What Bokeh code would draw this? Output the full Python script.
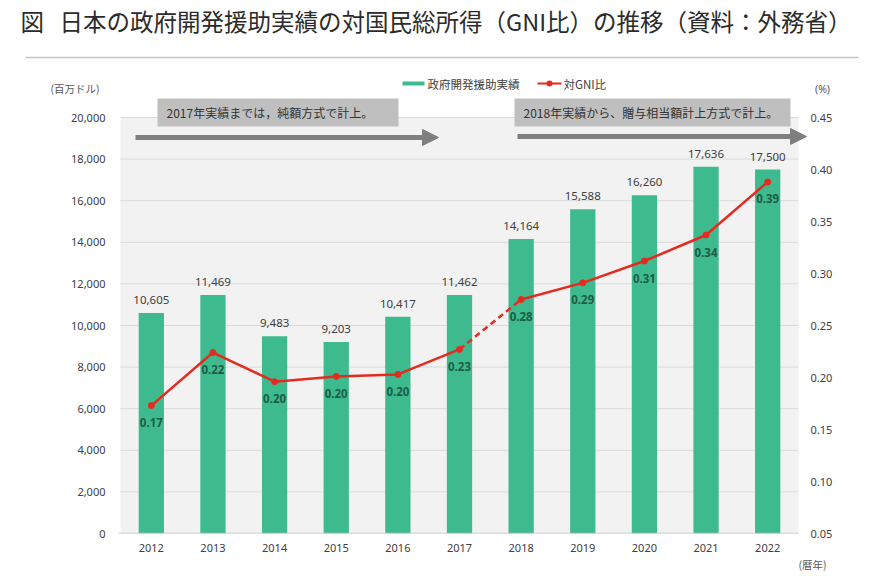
from bokeh.plotting import figure
from bokeh.layouts import column
from bokeh.models import (Range1d, LinearAxis, NumeralTickFormatter, FixedTicker,
                          ColumnDataSource, LabelSet, Label, BoxAnnotation, Arrow, NormalHead)
from bokeh.core.properties import value
from bokeh.embed import file_html
from bokeh.resources import INLINE

# ---------------- data ----------------
years = ["2012", "2013", "2014", "2015", "2016", "2017", "2018", "2019", "2020", "2021", "2022"]
oda = [10605, 11469, 9483, 9203, 10417, 11462, 14164, 15588, 16260, 17636, 17500]
gni_ratio = [0.173, 0.224, 0.196, 0.201, 0.203, 0.227, 0.275, 0.291, 0.312, 0.337, 0.388]
gni_labels = ["0.17", "0.22", "0.20", "0.20", "0.20", "0.23", "0.28", "0.29", "0.31", "0.34", "0.39"]
left_ticks = [0, 2000, 4000, 6000, 8000, 10000, 12000, 14000, 16000, 18000, 20000]
right_ticks = [0.05, 0.10, 0.15, 0.20, 0.25, 0.30, 0.35, 0.40, 0.45]

title_mark = "図"
title_text = "日本の政府開発援助実績の対国民総所得（GNI比）の推移（資料：外務省）"
series_bar = "政府開発援助実績"
series_line = "対GNI比"
note_before = "2017年実績までは，純額方式で計上。"
note_after = "2018年実績から、贈与相当額計上方式で計上。"
unit_left = "(百万ドル)"
unit_right = "(%)"
unit_x = "(暦年)"

# ---------------- layout constants (page px) ----------------
W = 866
TOP_H = 96          # header strip: y 0..96
MAIN_END = 558      # main figure: y 96..558
TOTAL_H = 571       # footer strip: y 558..571
PL, PR, PT, PB = 120, 798, 117, 533   # grey plot area (category span, 0..20000)
FRAME_L, FRAME_R = 109, 809           # main frame (a bit wider than grey area)
YMAX = left_ticks[-1]
N = len(years)
PX = (PR - PL) / N
YPX = YMAX / (PB - PT)
RPX = (right_ticks[-1] - right_ticks[0]) / (PB - PT)

BAR = "#3dbb8e"
RED = "#e52a1f"
GRAY_ARROW = "#7f7f7f"
JP = "Noto Sans CJK JP"
NUM = "Noto Sans"
TXT = "#404040"


def dx(page_x):
    return (page_x - PL) / PX - 0.5


def dy(page_y):
    return (PB - page_y) * YPX


def strip(height, y0):
    f = figure(width=W, height=height, x_range=Range1d(0, W), y_range=Range1d(y0 + height, y0),
               output_backend="svg", toolbar_location=None, x_axis_location=None,
               y_axis_location=None, min_border=0, title=None, frame_align=False)
    f.outline_line_color = None
    f.grid.visible = False
    f.background_fill_color = "white"
    f.border_fill_color = "white"
    return f


# ---------------- header strip ----------------
top = strip(TOP_H, 0)
top.add_layout(Label(x=20, y=20, text=title_mark, text_font=JP, text_font_size="23.5px",
                     text_baseline="middle", text_color="#2b2b2b"))
top.add_layout(Label(x=59, y=20, text=title_text, text_font=JP, text_font_size="23.5px",
                     text_baseline="middle", text_color="#2b2b2b"))
top.add_layout(Arrow(start=None, end=None, x_start=25, y_start=57, x_end=858, y_end=57,
                     line_color="#c4c4c4", line_width=1.5))
top.add_layout(Label(x=50, y=88, text=unit_left, text_font=JP, text_font_size="10.5px",
                     text_baseline="middle", text_color="#595959"))
top.add_layout(Label(x=822, y=88, text=unit_right, text_font=NUM, text_font_size="10.5px",
                     text_baseline="middle", text_align="center", text_color="#595959"))
# legend
top.add_layout(BoxAnnotation(left=402, right=424, top=81, bottom=85,
                             fill_color=BAR, fill_alpha=1, line_color=None))
top.add_layout(Label(x=427, y=83, text=series_bar, text_font=JP, text_font_size="11.5px",
                     text_baseline="middle", text_color=TXT))
top.add_layout(Arrow(start=None, end=None, x_start=537, y_start=83, x_end=561, y_end=83,
                     line_color=RED, line_width=2))
top.add_layout(BoxAnnotation(left=546, right=552, top=80, bottom=86, border_radius=3,
                             fill_color=RED, fill_alpha=1, line_color=None))
top.add_layout(Label(x=563, y=83, text=series_line, text_font=JP, text_font_size="11.5px",
                     text_baseline="middle", text_color=TXT))

# ---------------- main figure ----------------
main_h = MAIN_END - TOP_H
xpos = list(range(N))
p = figure(width=W, height=main_h,
           x_range=Range1d(dx(FRAME_L), dx(FRAME_R)), y_range=Range1d(0, dy(TOP_H)),
           output_backend="svg", toolbar_location=None, title=None, frame_align=False,
           min_border_left=FRAME_L, min_border_right=W - FRAME_R,
           min_border_top=0, min_border_bottom=MAIN_END - PB)
p.extra_y_ranges = {"pct": Range1d(right_ticks[0], right_ticks[0] + (PB - TOP_H) * RPX)}
p.background_fill_color = "white"
p.border_fill_color = "white"
p.outline_line_color = None
p.xgrid.visible = False
p.ygrid.visible = False

# left axis
ya = p.yaxis[0]
ya.ticker = FixedTicker(ticks=left_ticks)
ya.formatter = NumeralTickFormatter(format="0,0")
ya.axis_line_color = None
ya.major_tick_line_color = None
ya.minor_tick_line_color = None
ya.major_tick_out = 0
ya.major_tick_in = 0
ya.major_label_standoff = 4
ya.major_label_text_font = NUM
ya.major_label_text_font_size = "11px"
ya.major_label_text_color = TXT

# right axis
ra = LinearAxis(y_range_name="pct", ticker=FixedTicker(ticks=right_ticks),
                formatter=NumeralTickFormatter(format="0.00"))
ra.axis_line_color = None
ra.major_tick_line_color = None
ra.minor_tick_line_color = None
ra.major_tick_out = 0
ra.major_tick_in = 0
ra.major_label_standoff = 1
ra.major_label_text_font = NUM
ra.major_label_text_font_size = "11px"
ra.major_label_text_color = TXT
p.add_layout(ra, "right")

# bottom axis
xa = p.xaxis[0]
xa.ticker = FixedTicker(ticks=xpos)
xa.major_label_overrides = {i: y for i, y in enumerate(years)}
xa.axis_line_color = None
xa.major_tick_line_color = None
xa.minor_tick_line_color = None
xa.major_tick_out = 0
xa.major_tick_in = 0
xa.major_label_standoff = 10
xa.major_label_text_font = NUM
xa.major_label_text_font_size = "11px"
xa.major_label_text_color = TXT

# grey plot area + grid lines + base line
p.add_layout(BoxAnnotation(left=-0.5, right=N - 0.5, bottom=0, top=YMAX, fill_color="#f2f2f2",
                           fill_alpha=1, line_color=None, level="image"))
p.segment(x0=-0.5, x1=N - 0.5, y0=left_ticks[1:], y1=left_ticks[1:], line_color="#dadada",
          line_width=1, level="underlay")

src = ColumnDataSource(dict(x=xpos, oda=oda, oda_label=[f"{v:,}" for v in oda],
                            r=gni_ratio, r_label=gni_labels))
p.vbar(x="x", top="oda", width=0.41, source=src, fill_color=BAR, line_color=None)

p.add_layout(Arrow(start=None, end=None, x_start=-0.5 - 2 / PX, y_start=0, x_end=N - 0.5, y_end=0,
                   line_color="#bfbfbf", line_width=1.5))

# GNI ratio line: solid / dashed (2017-2018, change of method) / solid
p.line(xpos[:6], gni_ratio[:6], y_range_name="pct", line_color=RED, line_width=2.5)
p.line(xpos[5:7], gni_ratio[5:7], y_range_name="pct", line_color=RED, line_width=2.5,
       line_dash="6 4")
p.line(xpos[6:], gni_ratio[6:], y_range_name="pct", line_color=RED, line_width=2.5)
p.scatter(x="x", y="r", source=src, y_range_name="pct", size=6, fill_color=RED, line_color=RED)

# data labels
p.add_layout(LabelSet(x="x", y="oda", text="oda_label", source=src, y_offset=13,
                      text_align="center", text_baseline="middle", text_font=value(NUM),
                      text_font_size="11.5px", text_color=TXT))
p.add_layout(LabelSet(x="x", y="r", text="r_label", source=src, y_range_name="pct", y_offset=-17,
                      text_align="center", text_baseline="middle", text_font=value(NUM),
                      text_font_size="11.5px", text_font_style="bold", text_color="#1f5c47"))

# method notes (boxes + arrows)
for (bl, br, tx, txt, ax0, ax1, ay) in [(157, 398, 166, note_before, 135, 438, 137),
                                         (514, 790, 523, note_after, 517, 806, 136)]:
    p.add_layout(BoxAnnotation(left=dx(bl), right=dx(br), top=dy(98), bottom=dy(126),
                               fill_color="#bfbfbf", fill_alpha=1, line_color=None))
    p.add_layout(Label(x=dx(tx), y=dy(112), text=txt, text_font=JP, text_font_size="12px",
                       text_baseline="middle", text_color="#333333"))
    p.add_layout(Arrow(start=None,
                       end=NormalHead(size=16, fill_color=GRAY_ARROW, line_color=GRAY_ARROW),
                       x_start=dx(ax0), y_start=dy(ay), x_end=dx(ax1), y_end=dy(ay),
                       line_color=GRAY_ARROW, line_width=5))

# ---------------- footer strip ----------------
bot = strip(TOTAL_H - MAIN_END, MAIN_END)
bot.add_layout(Label(x=812, y=563.5, text=unit_x, text_font=JP, text_font_size="10.5px",
                     text_baseline="middle", text_align="center", text_color="#595959"))

layout = column(top, p, bot, spacing=0)
open("out.html", "w").write(file_html(layout, INLINE))
